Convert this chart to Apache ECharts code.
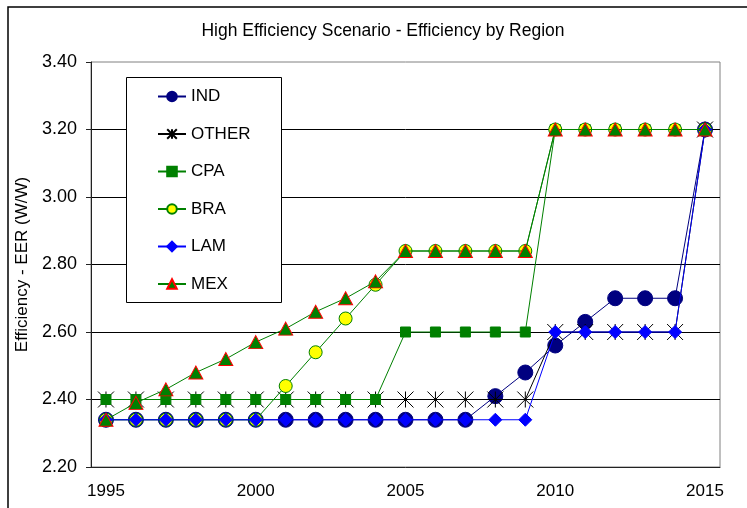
<!DOCTYPE html>
<html>
<head>
<meta charset="utf-8">
<script src="https://cdn.jsdelivr.net/npm/echarts@6/dist/echarts.min.js"></script>
<style>
html,body{margin:0;padding:0;background:#fff;}
#chart{width:747px;height:508px;}
</style>
</head>
<body>
<div id="chart"></div>
<script>
const years = ['1995','1996','1997','1998','1999','2000','2001','2002','2003','2004','2005','2006','2007','2008','2009','2010','2011','2012','2013','2014','2015'];
const yTicks = {min: 2.2, max: 3.4, interval: 0.2};
const titleText = 'High Efficiency Scenario - Efficiency by Region';
const yAxisName = 'Efficiency - EER (W/W)';
const seriesNames = ['IND','OTHER','CPA','BRA','LAM','MEX'];
const IND   = [2.34,2.34,2.34,2.34,2.34,2.34,2.34,2.34,2.34,2.34,2.34,2.34,2.34,2.41,2.48,2.56,2.63,2.70,2.70,2.70,3.20];
const OTHER = [2.40,2.40,2.40,2.40,2.40,2.40,2.40,2.40,2.40,2.40,2.40,2.40,2.40,2.40,2.40,2.60,2.60,2.60,2.60,2.60,3.20];
const CPA   = [2.40,2.40,2.40,2.40,2.40,2.40,2.40,2.40,2.40,2.40,2.60,2.60,2.60,2.60,2.60,3.20,3.20,3.20,3.20,3.20,3.20];
const BRA   = [2.34,2.34,2.34,2.34,2.34,2.34,2.44,2.54,2.64,2.74,2.84,2.84,2.84,2.84,2.84,3.20,3.20,3.20,3.20,3.20,3.20];
const LAM   = [2.34,2.34,2.34,2.34,2.34,2.34,2.34,2.34,2.34,2.34,2.34,2.34,2.34,2.34,2.34,2.60,2.60,2.60,2.60,2.60,3.20];
const MEX   = [2.34,2.39,2.43,2.48,2.52,2.57,2.61,2.66,2.70,2.75,2.84,2.84,2.84,2.84,2.84,3.20,3.20,3.20,3.20,3.20,3.20];

const FONT = '"Liberation Sans", Arial, sans-serif';
const asterisk = 'path://M0,0L16,16M16,0L0,16M8,0L8,16';

const chart = echarts.init(document.getElementById('chart'), null, {renderer: 'canvas'});

function mk(name, data, z, symbol, size, fill, border, lineColor) {
  return {
    name: name, type: 'line', data: data, z: z,
    symbol: symbol, symbolSize: size, showAllSymbol: true,
    itemStyle: {color: fill, borderColor: border, borderWidth: 1},
    lineStyle: {color: lineColor, width: 1},
    emphasis: {disabled: true},
    animation: false
  };
}

chart.setOption({
  animation: false,
  backgroundColor: '#fff',
  title: {
    text: titleText, left: 383, top: 22, textAlign: 'center', padding: 0,
    textStyle: {fontFamily: FONT, fontSize: 17.5, fontWeight: 'normal', color: '#000'}
  },
  graphic: [
    {type: 'rect', z: 0, silent: true, shape: {x: 8, y: 7, width: 800, height: 600},
     style: {fill: 'none', stroke: '#000', lineWidth: 1.5}},
    {type: 'rect', z: 50, silent: true, shape: {x: 126.5, y: 77.5, width: 155, height: 225},
     style: {fill: '#fff', stroke: '#000', lineWidth: 1}}
  ],
  legend: {
    orient: 'vertical', left: 157, top: 88, padding: 0, z: 60,
    itemWidth: 28, itemHeight: 12, itemGap: 20.5,
    data: seriesNames,
    textStyle: {fontFamily: FONT, fontSize: 17, color: '#000'}
  },
  grid: {left: 91, right: 27, top: 62, bottom: 41, show: true, borderColor: '#808080', borderWidth: 1, backgroundColor: 'transparent'},
  xAxis: {
    type: 'category', data: years, boundaryGap: true,
    axisLine: {lineStyle: {color: '#222', width: 1}},
    axisTick: {interval: 0, length: 5, lineStyle: {color: '#222'}},
    axisLabel: {interval: 4, margin: 16, fontFamily: FONT, fontSize: 17, color: '#000'},
    splitLine: {show: false}
  },
  yAxis: {
    type: 'value', min: yTicks.min, max: yTicks.max, interval: yTicks.interval,
    name: yAxisName, nameLocation: 'middle', nameGap: 53, nameRotate: 90,
    nameTextStyle: {fontFamily: FONT, fontSize: 17, color: '#000'},
    axisLine: {show: true, lineStyle: {color: '#222', width: 1}},
    axisTick: {show: true, length: 5, lineStyle: {color: '#222'}},
    axisLabel: {margin: 14, fontFamily: FONT, fontSize: 18, color: '#000', formatter: v => v.toFixed(2)},
    splitLine: {show: true, showMaxLine: false, showMinLine: false, lineStyle: {color: '#000', width: 1}}
  },
  series: [
    mk('IND', IND, 3, 'circle', 15, '#000080', '#000080', '#000080'),
    mk('OTHER', OTHER, 4, asterisk, 16, 'none', '#000', '#000'),
    mk('CPA', CPA, 5, 'rect', 10, '#008000', '#008000', '#008000'),
    mk('BRA', BRA, 6, 'circle', 13, '#FFFF00', '#008000', '#008000'),
    mk('LAM', LAM, 7, 'diamond', 13, '#0000FF', '#0000FF', '#0000FF'),
    mk('MEX', MEX, 8, 'triangle', [14, 13], '#008000', '#FF0000', '#008000')
  ]
});
</script>
</body>
</html>
